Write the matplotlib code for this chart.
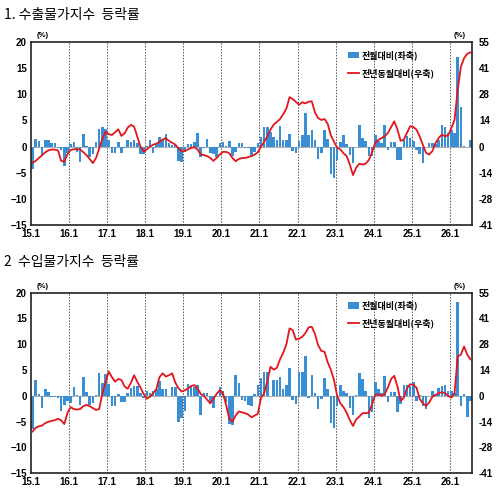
import matplotlib
matplotlib.use("Agg")
import matplotlib.pyplot as plt
from matplotlib.lines import Line2D
from matplotlib.patches import Patch
import numpy as np

plt.rcParams['font.family'] = ['Liberation Sans', 'Noto Sans CJK KR', 'DejaVu Sans']

# monthly data, 2015.1 ~ 2026.7
tick_labels = ['15.1', '16.1', '17.1', '18.1', '19.1', '20.1',
               '21.1', '22.1', '23.1', '24.1', '25.1', '26.1']

# 1. export price index: month-on-month (left axis, %)
exp_mom = [
    -4.2, 1.4, 1.1, -1.8, 1.2, 1.2, 0.7, 0.6, -0.2, -0.6, -3.8, -1.2,    # 2015
    0.4, 0.8, -1.0, -3.0, 2.4, 0.2, -2.0, -1.5, 0.9, 3.4, 3.8, 3.4,      # 2016
    1.2, -1.3, -1.3, 0.8, -1.2, -0.3, 1.2, 0.8, 1.2, 0.7, -1.5, -1.5,    # 2017
    0.2, 1.3, -1.2, 0.4, 1.8, 1.3, 2.5, 0.6, 0.3, 0.3, -2.8, -3.0,       # 2018
    -1.0, 0.5, 0.5, 0.8, 2.6, -2.0, -0.3, 1.5, -1.2, -1.5, -2.0, 0.7,    # 2019
    0.8, 0.2, 1.0, -1.8, -1.0, 0.6, 0.6, -0.3, -0.2, -1.8, -1.0, 0.7,    # 2020
    1.8, 3.7, 3.7, 2.7, 1.8, 1.3, 4.0, 1.3, 1.3, 2.5, -0.9, -1.2,        # 2021
    1.0, 2.3, 6.4, 2.2, 3.1, 1.3, -2.3, -1.3, 3.1, 1.5, -5.2, -6.0,      # 2022
    -2.5, 0.8, 2.2, 0.5, -1.7, -3.1, 0.0, 4.2, 1.7, 1.0, -1.8, -1.8,     # 2023
    2.3, 1.0, 0.7, 4.2, -0.6, 0.8, 0.8, -2.5, -2.5, 1.3, 2.0, 1.7,       # 2024
    1.0, -0.6, -1.5, -3.2, 0.0, 0.7, 0.7, 0.4, 1.3, 4.2, 3.8, 2.6,       # 2025
    3.2, 2.6, 17.2, 7.6, 0.2, 0.0, 1.3,                                  # 2026
]
# 1. export price index: year-on-year (right axis, %)
exp_yoy = [
    -8.5, -7.5, -6.0, -4.5, -3.0, -2.0, -1.6, -1.6, -2.0, -7.5, -8.0, -4.0,
    -1.8, -1.4, -1.4, -1.5, -3.0, -4.5, -6.5, -8.7, -6.0, -1.0, 4.0, 7.9,
    6.5, 6.1, 7.5, 9.1, 5.6, 7.0, 10.0, 11.4, 10.5, 5.2, 0.0, -2.6,
    -1.5, 0.0, 1.0, 1.5, 2.5, 3.7, 4.4, 3.0, 2.0, 1.0, -1.0, -2.4,
    -2.4, -1.5, -0.7, -0.3, -1.5, -4.2, -4.5, -5.0, -6.0, -7.5, -6.0, -4.2,
    -2.8, -2.8, -3.5, -6.0, -7.7, -6.5, -6.0, -6.0, -5.5, -5.0, -4.2, -3.0,
    0.0, 2.5, 5.4, 9.0, 11.5, 13.0, 14.5, 17.0, 20.0, 26.0, 25.0, 23.5,
    22.0, 23.3, 22.7, 23.6, 23.8, 18.0, 15.0, 14.0, 14.5, 12.0, 6.0, 2.5,
    -0.5, -1.5, -3.5, -5.0, -9.5, -15.0, -11.0, -9.0, -9.5, -9.0, -7.0, -3.0,
    2.0, 3.5, 4.5, 5.4, 7.2, 10.3, 13.3, 9.0, 3.0, 3.7, 7.2, 10.7,
    10.3, 8.9, 5.4, 1.0, -3.3, -4.2, -2.4, 1.9, 4.5, 6.3, 5.4, 6.0,
    9.8, 14.0, 30.0, 42.0, 46.5, 48.8, 49.5,
]

# 2. import price index: month-on-month (left axis, %)
imp_mom = [
    -6.5, 3.0, 0.3, -2.4, 1.3, 0.8, -0.3, -0.3, -0.5, -2.9, -1.7, -1.0,  # 2015
    -1.4, 1.8, 0.1, -1.8, 3.7, 0.8, -1.8, -1.3, 0.2, 4.4, 2.5, 4.3,      # 2016
    2.3, -2.0, -2.0, 0.4, -1.2, -1.2, 0.5, 1.5, 1.9, 1.9, 0.5, -0.5,     # 2017
    0.9, 0.6, 1.0, 1.3, 2.9, 1.3, 1.3, -0.1, 1.8, 1.8, -5.0, -4.3,       # 2018
    -3.0, 2.3, 1.8, 1.8, 2.1, -3.7, 0.6, 0.6, -1.1, -2.4, 0.0, 1.7,      # 2019
    1.0, -1.1, -5.5, -5.6, 4.1, 2.5, -0.8, -1.0, -1.7, -1.9, 0.3, 2.1,   # 2020
    3.5, 4.6, 4.6, -0.1, 3.0, 3.0, 3.6, 1.3, 2.2, 5.5, -0.8, -1.6,       # 2021
    4.6, 4.6, 7.7, -0.5, 4.0, 0.6, -2.5, -0.6, 3.5, 1.3, -5.2, -6.3,     # 2022
    -1.9, 2.2, 1.0, 0.6, -2.3, -3.7, 0.2, 4.4, 3.2, 1.0, -4.2, -3.2,     # 2023
    2.7, 1.4, 0.6, 3.9, -1.2, 0.8, 0.8, -3.2, -1.6, 2.2, 2.1, 1.9,       # 2024
    2.6, -1.0, 0.2, -1.9, -2.6, 0.0, 1.0, 0.3, 1.6, 1.9, 2.2, 1.0,       # 2025
    1.0, 0.5, 18.2, -1.9, 0.3, -4.1, -1.0,                               # 2026
]
# 2. import price index: year-on-year (right axis, %)
imp_yoy = [
    -19.0, -17.0, -16.2, -15.8, -14.5, -13.8, -13.3, -13.0, -12.2, -13.0, -15.0, -9.0,
    -6.0, -7.0, -7.3, -7.0, -5.5, -4.8, -5.5, -6.5, -7.5, -7.0, 1.4, 7.0,
    13.0, 10.0, 7.6, 9.0, 8.5, 5.0, 3.8, 7.0, 11.0, 7.5, 4.5, 1.0,
    -1.5, -0.5, 1.4, 3.6, 10.0, 12.0, 10.3, 11.0, 12.0, 7.0, 4.1, 2.3,
    3.0, 4.0, 5.3, 5.7, 4.0, 1.0, 0.0, -2.0, -4.0, -1.5, 1.0, 3.0,
    1.4, -4.8, -12.4, -13.7, -10.5, -8.3, -8.8, -9.2, -10.0, -11.4, -10.5, -9.5,
    -1.0, 1.4, 8.0, 15.5, 14.0, 15.0, 19.5, 23.0, 27.5, 36.0, 35.0, 30.0,
    30.5, 31.5, 33.5, 36.5, 36.8, 33.0, 27.0, 24.0, 23.5, 18.0, 14.0, 8.5,
    0.0, -4.0, -6.0, -9.0, -13.0, -16.0, -12.5, -11.0, -9.2, -9.2, -9.0, -4.5,
    0.5, 0.9, 0.0, 1.0, 4.5, 9.0, 10.7, 5.0, -2.7, -1.0, 4.0, 6.2,
    6.0, 4.4, -1.5, -4.0, -5.3, -3.5, -0.5, 0.5, 1.4, 2.0, 1.5, 0.0,
    -0.9, 1.4, 21.0, 22.0, 26.3, 22.0, 19.5,
]

BLUE = '#3a8fd4'
RED = '#e3161e'
KFONT = ['Noto Sans CJK KR', 'DejaVu Sans']

left_ticks = [20, 15, 10, 5, 0, -5, -10, -15]
right_labels = ['55', '41', '28', '14', '0', '-14', '-28', '-41']


def draw_panel(fig, rect, title, title_y, mom, yoy):
    n = len(mom)
    x = np.arange(n) + 0.5
    ax = fig.add_axes(rect)
    ax.bar(x, mom, width=0.8, color=BLUE, edgecolor='none', zorder=2)
    ax.axhline(0, color='#b0b0b0', linewidth=0.8, zorder=1)
    for k in range(12, n, 12):
        ax.axvline(k, color='#555555', linestyle=(0, (1.5, 1.5)), linewidth=0.7, zorder=1)
    ax.set_xlim(0, n)
    ax.set_ylim(-15, 20)
    ax.set_yticks(left_ticks)
    ax.set_xticks(np.arange(0, n, 12))
    ax.set_xticklabels(tick_labels)
    ax.tick_params(axis='both', length=0, labelsize=7, pad=3)
    for lab in ax.get_xticklabels() + ax.get_yticklabels():
        lab.set_fontweight('bold')
    for sp in ax.spines.values():
        sp.set_linewidth(1.2)
        sp.set_color('#222222')

    ax2 = ax.twinx()
    ax2.plot(x, yoy, color=RED, linewidth=1.3, zorder=3)
    ax2.set_ylim(-41.25, 55)
    ax2.set_yticks([t * 2.75 for t in left_ticks])
    ax2.set_yticklabels(right_labels)
    ax2.tick_params(axis='y', length=0, labelsize=7, pad=5)
    for lab in ax2.get_yticklabels():
        lab.set_fontweight('bold')
    for sp in ax2.spines.values():
        sp.set_visible(False)

    ax.text(0.012, 1.015, '(%)', transform=ax.transAxes, fontsize=5.5,
            fontweight='bold', ha='left', va='bottom')
    ax.text(0.985, 1.015, '(%)', transform=ax.transAxes, fontsize=5.5,
            fontweight='bold', ha='right', va='bottom')

    handles = [Patch(facecolor=BLUE, edgecolor='none'),
               Line2D([0], [0], color=RED, linewidth=1.3)]
    leg = ax.legend(handles, ['전월대비(좌축)', '전년동월대비(우축)'],
                    loc='upper left', bbox_to_anchor=(0.7, 1.0), frameon=False,
                    handlelength=1.2, handleheight=0.7, handletextpad=0.3,
                    labelspacing=0.9, prop={'family': KFONT, 'size': 6.5,
                                            'weight': 'bold'})
    leg.set_zorder(5)

    fig.text(0.008, title_y, title, fontsize=10, family=KFONT,
             ha='left', va='center')


fig = plt.figure(figsize=(5, 4.93), dpi=100)
draw_panel(fig, [0.062, 0.5436, 0.882, 0.3712], '1. 수출물가지수  등락률', 0.97, exp_mom, exp_yoy)
draw_panel(fig, [0.062, 0.040, 0.882, 0.3663], '2  수입물가지수  등락률', 0.468, imp_mom, imp_yoy)

fig.savefig('out.png', dpi=100)
